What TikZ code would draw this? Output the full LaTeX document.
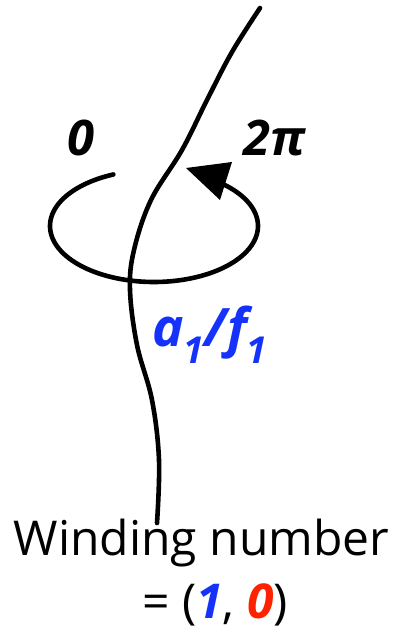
\documentclass[tikz,border=0pt]{standalone}
\usepackage{fontspec}
\setmainfont{Open Sans}
\definecolor{wblue}{RGB}{20,50,250}
\definecolor{wred}{RGB}{255,34,0}
\begin{document}
\begin{tikzpicture}[x=1pt,y=-1pt,
  strand/.style={line width=4.6pt,line cap=round},
  biglabel/.style={font=\fontsize{49}{49}\selectfont\bfseries\itshape,inner sep=0pt,anchor=base},
  txt/.style={font=\fontsize{48}{48}\selectfont,inner sep=0pt,anchor=base}]
\useasboundingbox (0,0) rectangle (399,632);
% strand
\draw[strand] plot[smooth,tension=0.6] coordinates {(260,8) (232,52) (207,100) (182,150) (151,200) (134,250) (130,290) (137,345) (152,400) (159,460) (157,523)};
% loop
\draw[strand] plot[domain=-113:-410,samples=120] ({154+104*cos(\x)},{226+56*sin(\x)});
\fill (186,168) -- (232,162) -- (220,200) -- cycle;
% labels
\node[biglabel] (zero) at (81,155) {0};
\node[biglabel] (twopi) at (275,155) {2π};
\node[biglabel,font=\fontsize{53}{53}\selectfont\bfseries\itshape,text=wblue] (af) at (210,346) {a\textsubscript{1}/f\textsubscript{1}};
\node[txt] (wind) at (201.5,555) {Winding number};
\node[txt] (eq) at (215,618) {= (\textcolor{wblue}{\bfseries\itshape 1}, \textcolor{wred}{\bfseries\itshape 0})};
\end{tikzpicture}
\end{document}
